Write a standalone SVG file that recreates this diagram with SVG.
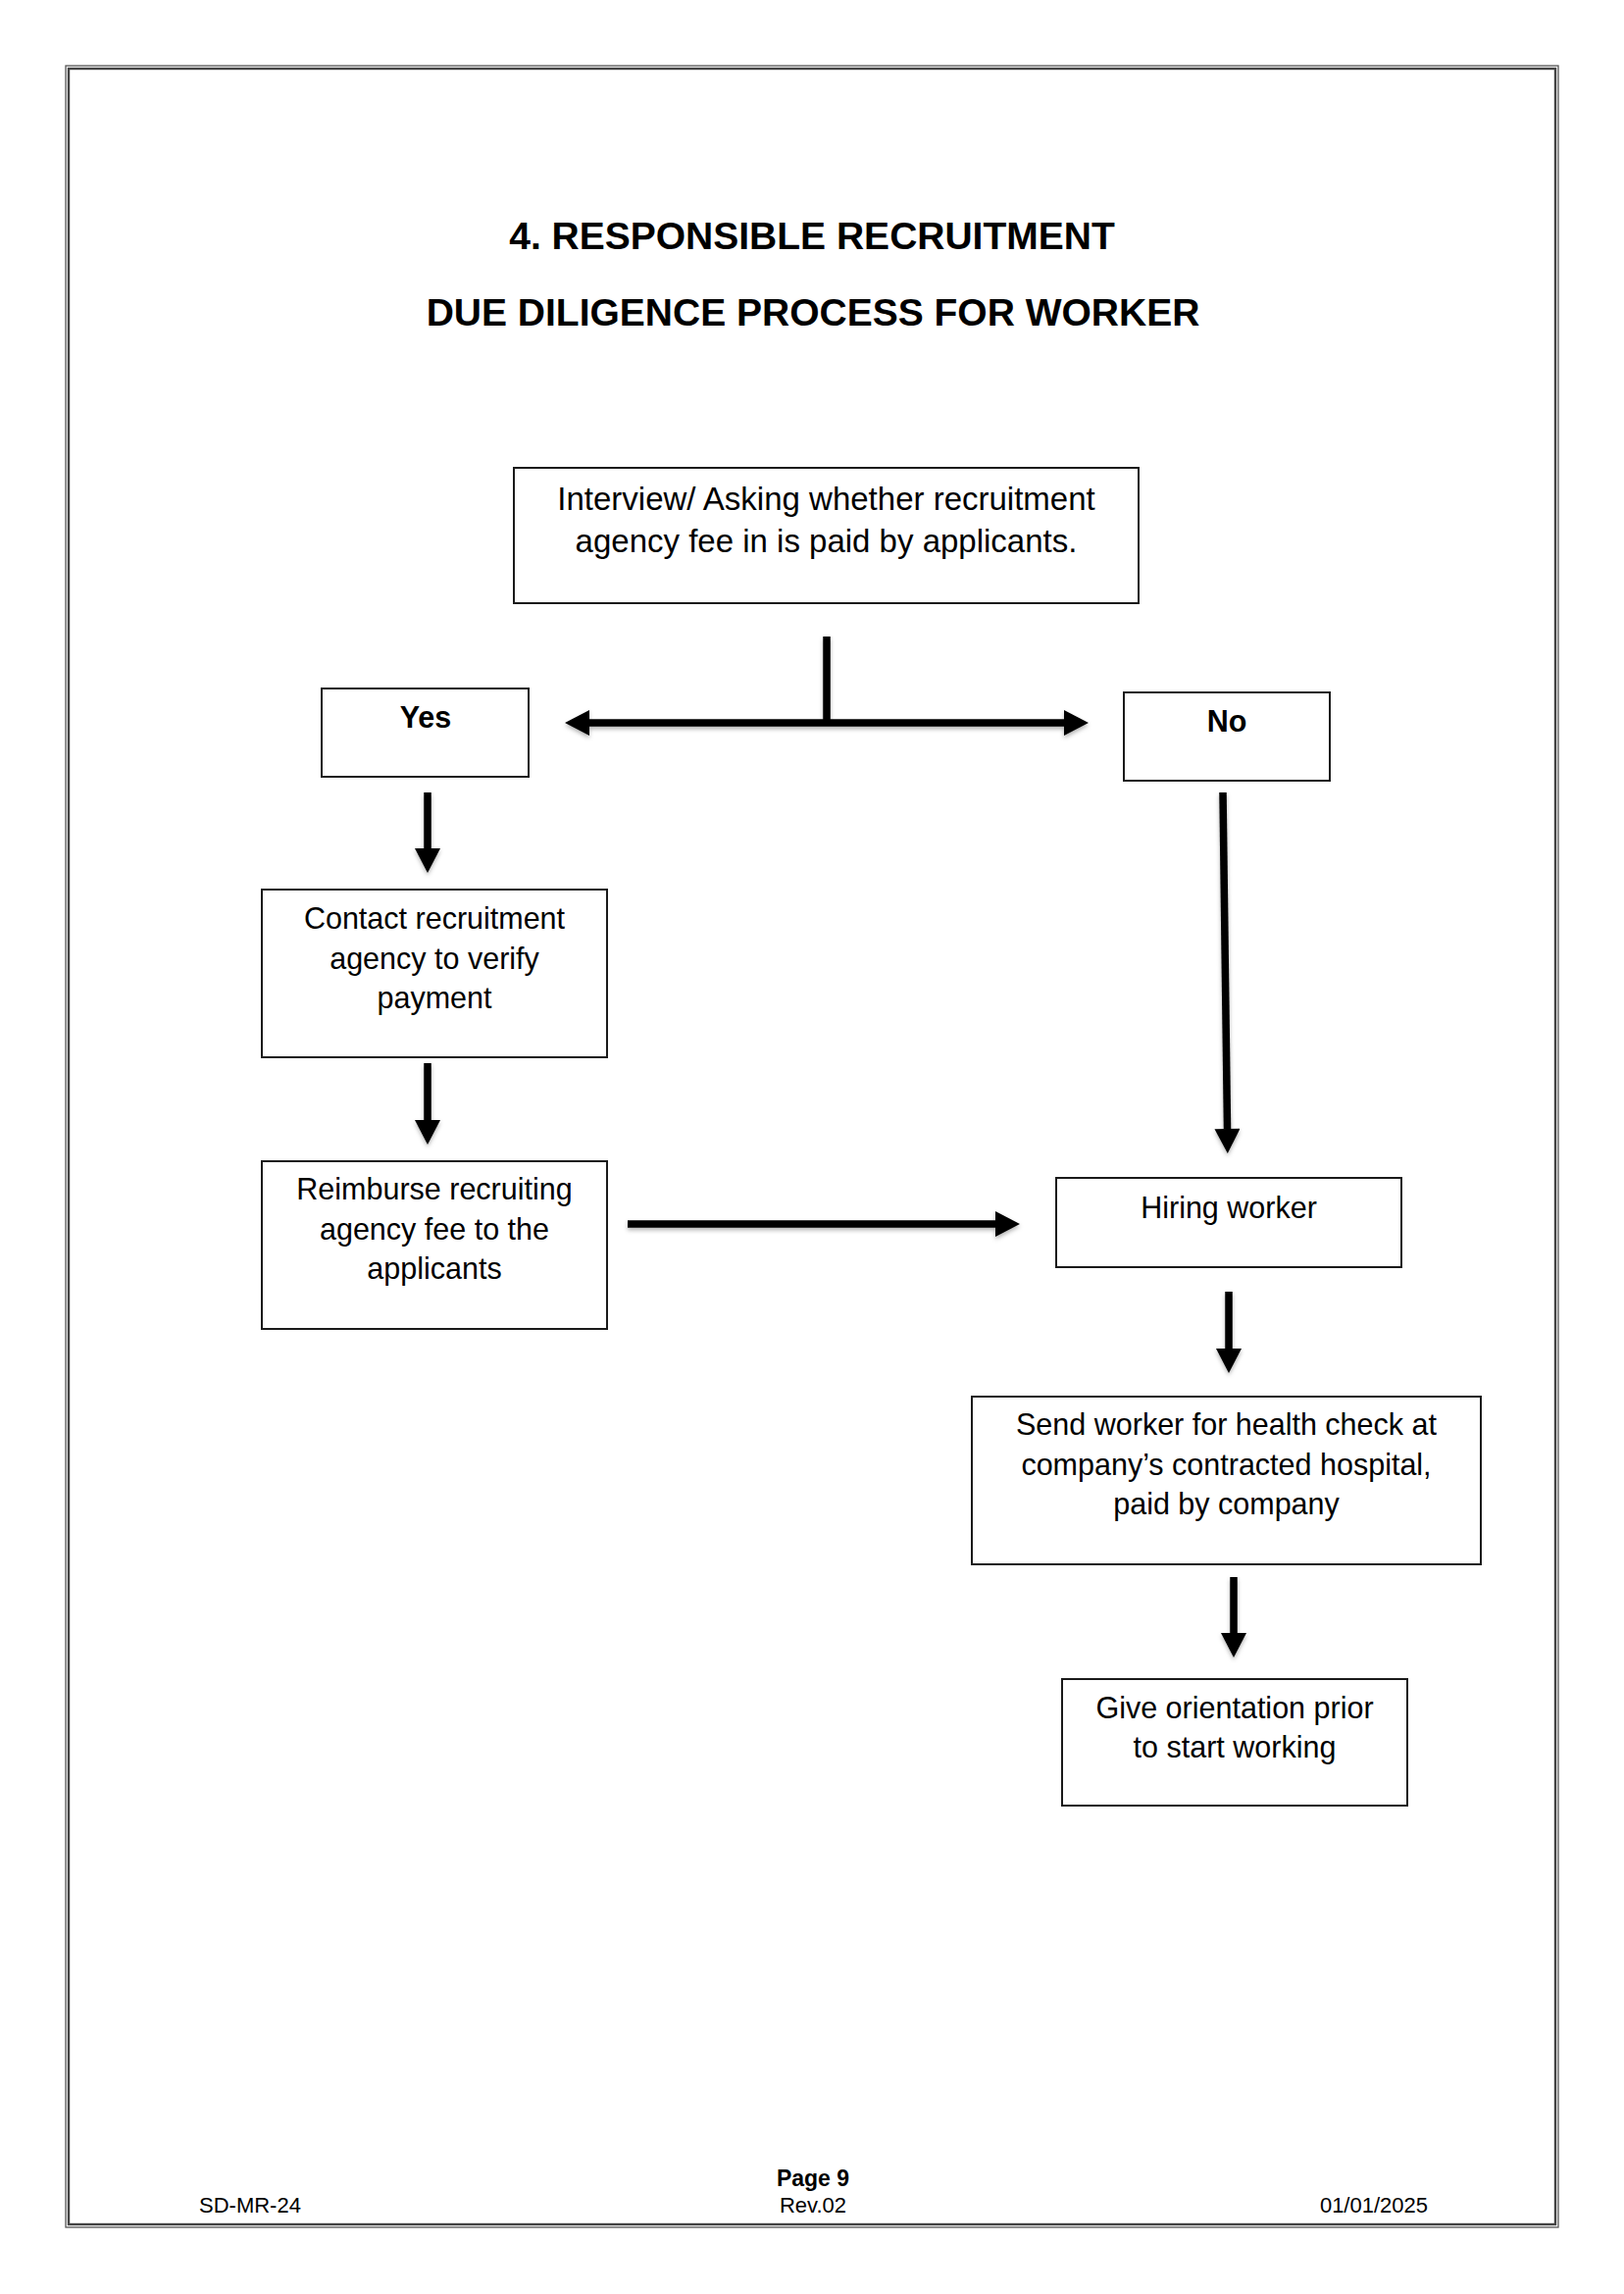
<svg xmlns="http://www.w3.org/2000/svg" width="1656" height="2339" viewBox="0 0 1656 2339">
  <style>
    .box { fill: #ffffff; stroke: #1a1a1a; stroke-width: 2; }
    .txt { font-family: "Liberation Sans", Arial, Helvetica, sans-serif; font-size: 30.5px; fill: #000; text-anchor: middle; }
    .big { font-size: 33px; }
    .bold { font-weight: bold; }
    .title { font-family: "Liberation Sans", Arial, Helvetica, sans-serif; font-size: 39px; font-weight: bold; fill: #000; text-anchor: middle; }
    .foot { font-family: "Liberation Sans", Arial, Helvetica, sans-serif; font-size: 22px; fill: #000; }
    .conn { stroke: #000; stroke-width: 7.5; fill: none; }
  </style>
  <defs>
    <marker id="ah" markerUnits="userSpaceOnUse" markerWidth="26" markerHeight="26" refX="0" refY="12.5" orient="auto" viewBox="0 0 24 25">
      <path d="M0,0 L24,12.5 L0,25 z" fill="#000"/>
    </marker>
    <filter id="sh" x="-20%" y="-20%" width="140%" height="140%">
      <feDropShadow dx="0" dy="2.5" stdDeviation="2" flood-color="#000" flood-opacity="0.3"/>
    </filter>
  </defs>
  <rect width="1656" height="2339" fill="#ffffff"/>

  <g id="page-border" fill="none">
    <rect x="67" y="67" width="1522" height="2204" stroke="#555" stroke-width="1.3"/>
    <rect x="70" y="70" width="1516" height="2198" stroke="#444" stroke-width="2.4"/>
  </g>

  <g id="title">
    <text class="title" x="828" y="254">4. RESPONSIBLE RECRUITMENT</text>
    <text class="title" x="829" y="332">DUE DILIGENCE PROCESS FOR WORKER</text>
  </g>

  <g id="connectors" filter="url(#sh)">
    <line class="conn" x1="843" y1="649" x2="843" y2="740"/>
    <line class="conn" x1="843" y1="737" x2="601" y2="737" marker-end="url(#ah)"/>
    <line class="conn" x1="843" y1="737" x2="1085" y2="737" marker-end="url(#ah)"/>
    <line class="conn" x1="436" y1="808" x2="436" y2="865" marker-end="url(#ah)"/>
    <line class="conn" x1="436" y1="1084" x2="436" y2="1142" marker-end="url(#ah)"/>
    <line class="conn" x1="640" y1="1248" x2="1015" y2="1248" marker-end="url(#ah)"/>
    <line class="conn" x1="1247" y1="808" x2="1251.5" y2="1151" marker-end="url(#ah)"/>
    <line class="conn" x1="1253" y1="1317" x2="1253" y2="1375" marker-end="url(#ah)"/>
    <line class="conn" x1="1258" y1="1608" x2="1258" y2="1665" marker-end="url(#ah)"/>
  </g>

  <g id="node-interview">
    <rect class="box" x="524" y="477" width="637" height="138"/>
    <text class="txt big" x="842.5" y="520">Interview/ Asking whether recruitment</text>
    <text class="txt big" x="842.5" y="563">agency fee in is paid by applicants.</text>
  </g>

  <g id="node-yes">
    <rect class="box" x="328" y="702" width="211" height="90"/>
    <text class="txt bold" x="434" y="742">Yes</text>
  </g>

  <g id="node-no">
    <rect class="box" x="1146" y="706" width="210" height="90"/>
    <text class="txt bold" x="1251" y="746">No</text>
  </g>

  <g id="node-contact">
    <rect class="box" x="267" y="907" width="352" height="171"/>
    <text class="txt" x="443" y="947">Contact recruitment</text>
    <text class="txt" x="443" y="988">agency to verify</text>
    <text class="txt" x="443" y="1028">payment</text>
  </g>

  <g id="node-reimburse">
    <rect class="box" x="267" y="1184" width="352" height="171"/>
    <text class="txt" x="443" y="1223">Reimburse recruiting</text>
    <text class="txt" x="443" y="1264">agency fee to the</text>
    <text class="txt" x="443" y="1304">applicants</text>
  </g>

  <g id="node-hiring">
    <rect class="box" x="1077" y="1201" width="352" height="91"/>
    <text class="txt" x="1253" y="1242">Hiring worker</text>
  </g>

  <g id="node-health">
    <rect class="box" x="991" y="1424" width="519" height="171"/>
    <text class="txt" x="1250.5" y="1463">Send worker for health check at</text>
    <text class="txt" x="1250.5" y="1504">company’s contracted hospital,</text>
    <text class="txt" x="1250.5" y="1544">paid by company</text>
  </g>

  <g id="node-orientation">
    <rect class="box" x="1083" y="1712" width="352" height="129"/>
    <text class="txt" x="1259" y="1752">Give orientation prior</text>
    <text class="txt" x="1259" y="1792">to start working</text>
  </g>

  <g id="footer">
    <text class="foot bold" x="829" y="2229" text-anchor="middle" style="font-size:23px">Page 9</text>
    <text class="foot" x="203" y="2256">SD-MR-24</text>
    <text class="foot" x="829" y="2256" text-anchor="middle">Rev.02</text>
    <text class="foot" x="1456" y="2256" text-anchor="end">01/01/2025</text>
  </g>
</svg>
